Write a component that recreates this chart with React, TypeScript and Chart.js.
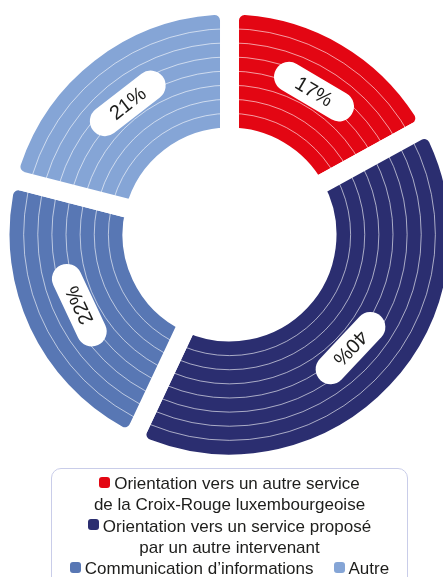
import React, { useEffect, useRef } from "react";
import { Chart, registerables } from "chart.js";

Chart.register(...registerables);

const categories: string[][] = [
  ["Orientation vers un autre service", "de la Croix-Rouge luxembourgeoise"],
  ["Orientation vers un service proposé", "par un autre intervenant"],
  ["Communication d’informations"],
  ["Autre"],
];
const values: number[] = [17, 40, 22, 21];
const valueLabels: string[] = ["17%", "40%", "22%", "21%"];
const colors: string[] = ["#e30613", "#2b2e70", "#5877b4", "#85a5d6"];

const BANDS = 8;
const GAP = 19;

export default function App() {
  const ref = useRef<HTMLCanvasElement>(null);

  useEffect(() => {
    if (!ref.current) return;
    const decor = {
      id: "decor",
      afterDatasetsDraw(chart: any) {
        const meta = chart.getDatasetMeta(0);
        const els = meta.data as any[];
        if (!els.length) return;
        const ctx = chart.ctx as CanvasRenderingContext2D;
        const p0 = els[0].getProps(["x", "y", "innerRadius", "outerRadius"], true);
        const rIn = p0.innerRadius + GAP / 2;
        const rOut = p0.outerRadius - GAP / 2;
        ctx.save();
        ctx.strokeStyle = "rgba(255,255,255,0.6)";
        ctx.lineWidth = 1;
        for (let k = 1; k < BANDS; k++) {
          const r = rIn + ((rOut - rIn) * k) / BANDS;
          ctx.beginPath();
          ctx.arc(p0.x, p0.y, r, 0, Math.PI * 2);
          ctx.stroke();
        }
        els.forEach((el, i) => {
          const p = el.getProps(["x", "y", "startAngle", "endAngle", "innerRadius", "outerRadius"], true);
          const mid = (p.startAngle + p.endAngle) / 2;
          const r = (p.innerRadius + p.outerRadius) / 2 + 2.5;
          const cx = p.x + Math.cos(mid) * r;
          const cy = p.y + Math.sin(mid) * r;
          ctx.save();
          ctx.translate(cx, cy);
          ctx.rotate(mid + Math.PI / 2);
          const L = 88;
          const T = 30;
          ctx.beginPath();
          (ctx as any).roundRect(-L / 2, -T / 2, L, T, T / 2);
          ctx.fillStyle = "#ffffff";
          ctx.fill();
          ctx.fillStyle = "#1d1d1b";
          ctx.font = "400 20px 'Liberation Sans', Arial, sans-serif";
          ctx.textAlign = "center";
          ctx.textBaseline = "middle";
          ctx.fillText(valueLabels[i], 0, 1);
          ctx.restore();
        });
        ctx.restore();
      },
    };

    const chart = new Chart(ref.current, {
      type: "doughnut",
      data: {
        labels: categories.map((c) => c.join(" ")),
        datasets: [
          {
            data: values,
            backgroundColor: colors,
            borderColor: "#ffffff",
            borderWidth: GAP,
            borderAlign: "center",
            borderRadius: { outerStart: 15, outerEnd: 15, innerStart: 0, innerEnd: 0 },
          } as any,
        ],
      },
      options: {
        responsive: false,
        animation: false,
        events: [],
        radius: 229.5,
        cutout: "42.48%",
        plugins: {
          legend: { display: false },
          tooltip: { enabled: false },
        },
      } as any,
      plugins: [decor],
    });
    return () => chart.destroy();
  }, []);

  const marker = (c: string) => (
    <span
      style={{
        display: "inline-block",
        width: 11,
        height: 11,
        borderRadius: 3,
        background: c,
        marginRight: 4,
        marginBottom: 1.5,
        verticalAlign: "baseline",
      }}
    />
  );

  return (
    <div
      style={{
        position: "absolute",
        left: 0,
        top: 0,
        width: 443,
        height: 577,
        overflow: "hidden",
        background: "#fff",
      }}
    >
      <div style={{ position: "absolute", left: 0, top: 0, width: 459, height: 469 }}>
        <canvas ref={ref} width={459} height={469} style={{ display: "block" }} />
      </div>
      <div
        style={{
          position: "absolute",
          left: 51,
          top: 468,
          width: 357,
          height: 140,
          boxSizing: "border-box",
          border: "1px solid #c9cde9",
          borderRadius: 10,
          paddingTop: 4,
          textAlign: "center",
          fontFamily: "'Liberation Sans', Arial, sans-serif",
          fontSize: 17,
          lineHeight: "21.3px",
          color: "#1d1d1b",
        }}
      >
        {categories.map((lines, i) => (
          <React.Fragment key={i}>
            <span style={{ marginRight: i === 2 ? 20 : 0 }}>
              {marker(colors[i])}
              {lines.map((ln, j) => (
                <React.Fragment key={j}>
                  {j > 0 && <br />}
                  {ln}
                </React.Fragment>
              ))}
            </span>
            {i < 2 && <br />}
          </React.Fragment>
        ))}
      </div>
    </div>
  );
}
